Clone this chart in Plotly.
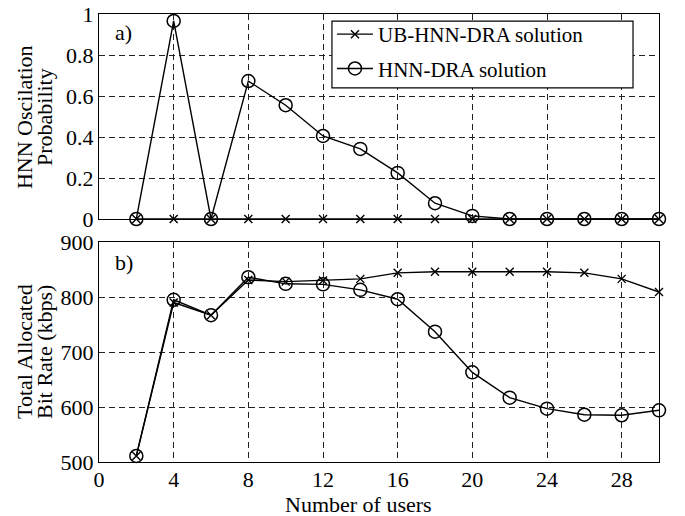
import plotly.graph_objects as go

users = [2, 4, 6, 8, 10, 12, 14, 16, 18, 20, 22, 24, 26, 28, 30]
osc_ub = [0, 0, 0, 0, 0, 0, 0, 0, 0, 0, 0, 0, 0, 0, 0]
osc_hnn = [0, 0.966, 0, 0.673, 0.555, 0.405, 0.342, 0.225, 0.077, 0.015, 0, 0, 0, 0, 0]
rate_ub = [511, 790, 767, 831, 828, 830, 833, 844, 846, 846, 846, 846, 844, 833, 809]
rate_hnn = [511, 795, 767, 836, 824, 823, 813, 796, 737, 663, 617, 597, 586, 585, 594]

x_ticks = [0, 4, 8, 12, 16, 20, 24, 28]
osc_ticks = [0, 0.2, 0.4, 0.6, 0.8, 1]
osc_tick_labels = ["0", "0.2", "0.4", "0.6", "0.8", "1"]
rate_ticks = [500, 600, 700, 800, 900]

FONT = "Liberation Serif"
fig = go.Figure()

line = dict(color="black", width=1.4)
ub_marker = dict(symbol="x-thin", size=8, line=dict(color="black", width=1.4), color="black")
hnn_marker = dict(symbol="circle-open", size=13, line=dict(color="black", width=1.5), color="black")

fig.add_trace(go.Scatter(x=users, y=osc_ub, mode="lines+markers", name="UB-HNN-DRA solution",
                         legendgroup="ub", line=line, marker=ub_marker,
                         xaxis="x", yaxis="y", cliponaxis=False))
fig.add_trace(go.Scatter(x=users, y=osc_hnn, mode="lines+markers", name="HNN-DRA solution",
                         legendgroup="hnn", line=line, marker=hnn_marker,
                         xaxis="x", yaxis="y", cliponaxis=False))
fig.add_trace(go.Scatter(x=users, y=rate_ub, mode="lines+markers", showlegend=False,
                         line=line, marker=ub_marker, xaxis="x2", yaxis="y2", cliponaxis=False))
fig.add_trace(go.Scatter(x=users, y=rate_hnn, mode="lines+markers", showlegend=False,
                         line=line, marker=hnn_marker, xaxis="x2", yaxis="y2", cliponaxis=False))

axcommon = dict(showline=True, linecolor="black", linewidth=1.2, mirror=True,
                showgrid=True, gridcolor="#222", griddash="6px,4px", gridwidth=0.8,
                ticks="", zeroline=False, automargin=False,
                tickfont=dict(family=FONT, size=22, color="black"))

title_font = dict(family=FONT, size=22, color="black")
rot = dict(xref="paper", yref="paper", x=0, textangle=-90, showarrow=False,
           xanchor="center", yanchor="middle", font=title_font)

fig.update_layout(
    width=685, height=516,
    margin=dict(l=99, r=26, t=14, b=54),
    plot_bgcolor="white", paper_bgcolor="white",
    font=dict(family=FONT, size=21, color="black"),
    xaxis=dict(domain=[0, 1], range=[0, 30], tickvals=x_ticks, showticklabels=False,
               anchor="y", **axcommon),
    yaxis=dict(domain=[0.5424, 1], range=[0, 1], tickvals=osc_ticks, ticktext=osc_tick_labels,
               anchor="x", **axcommon),
    xaxis2=dict(domain=[0, 1], range=[0, 30], tickvals=x_ticks, anchor="y2",
                ticklabelstandoff=-3, **axcommon),
    yaxis2=dict(domain=[0, 0.491], range=[500, 900], tickvals=rate_ticks, anchor="x2",
                **axcommon),
    legend=dict(x=0.416, y=1.0, xanchor="left", yanchor="top",
                borderwidth=0, bgcolor="rgba(0,0,0,0)", itemwidth=36,
                font=dict(family=FONT, size=21, color="black"), tracegroupgap=4),
    shapes=[
        dict(type="rect", xref="paper", yref="paper", x0=0.416, x1=0.9536, y0=0.835, y1=0.984,
             line=dict(color="black", width=1.2), fillcolor="white", layer="above"),
    ],
    annotations=[
        dict(text="a)", xref="x", yref="y", x=0.75, y=0.91, showarrow=False,
             xanchor="left", font=dict(family=FONT, size=22)),
        dict(text="b)", xref="x2", yref="y2", x=0.75, y=862, showarrow=False,
             xanchor="left", font=dict(family=FONT, size=22)),
        dict(text="HNN Oscilation", y=0.770, xshift=-75, **rot),
        dict(text="Probability", y=0.770, xshift=-55, **rot),
        dict(text="Total Allocated", y=0.2455, xshift=-75, **rot),
        dict(text="Bit Rate (kbps)", y=0.2455, xshift=-55, **rot),
        dict(text="Number of users", xref="paper", yref="paper", x=0.463, y=0,
             yshift=-42, xanchor="center", yanchor="middle", showarrow=False, font=title_font),
    ],
)

fig.write_html("out.html", post_script="document.body.style.margin='0';",
               config={"displayModeBar": False})
